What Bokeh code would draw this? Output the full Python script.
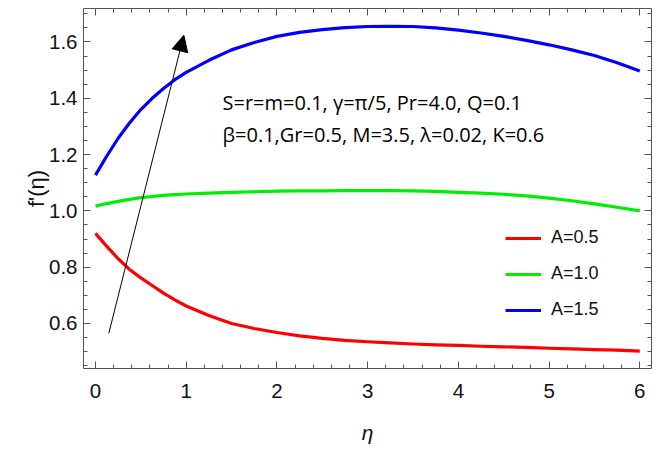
from bokeh.plotting import figure
from bokeh.models import (LinearAxis, SingleIntervalTicker, NumeralTickFormatter,
                          Legend, LegendItem, Arrow, NormalHead, Label, Range1d,
                          CustomJSTickFormatter)
from bokeh.embed import file_html
from bokeh.resources import INLINE

# ---- data ----
eta = [0.0, 0.125, 0.25, 0.375, 0.5, 0.625, 0.75, 0.875, 1.0,
       1.25, 1.5, 1.75, 2.0, 2.25, 2.5, 2.75, 3.0, 3.25, 3.5, 3.75,
       4.0, 4.25, 4.5, 4.75, 5.0, 5.25, 5.5, 5.75, 6.0]
f_A05 = [0.920, 0.874, 0.830, 0.792, 0.762, 0.735, 0.708, 0.684, 0.662,
         0.628, 0.600, 0.582, 0.568, 0.556, 0.547, 0.540, 0.535, 0.531, 0.527, 0.524,
         0.522, 0.519, 0.517, 0.515, 0.512, 0.510, 0.507, 0.505, 0.502]
f_A10 = [1.017, 1.026, 1.034, 1.041, 1.047, 1.051, 1.055, 1.058, 1.060,
         1.063, 1.066, 1.068, 1.070, 1.071, 1.071, 1.072, 1.072, 1.072, 1.071, 1.069,
         1.066, 1.063, 1.059, 1.053, 1.045, 1.036, 1.025, 1.013, 1.000]
f_A15 = [1.127, 1.195, 1.258, 1.312, 1.360, 1.400, 1.435, 1.466, 1.492,
         1.535, 1.572, 1.598, 1.620, 1.634, 1.644, 1.651, 1.655, 1.656, 1.655, 1.650,
         1.642, 1.632, 1.620, 1.606, 1.590, 1.572, 1.552, 1.526, 1.497]
labels = ["A=0.5", "A=1.0", "A=1.5"]
colors = ["#ff0000", "#00ee00", "#0000ff"]
arrow_start = (0.147, 0.565)
arrow_end = (0.974, 1.624)
note1 = "S=r=m=0.1, \u03b3=\u03c0/5, Pr=4.0, Q=0.1"
note2 = "\u03b2=0.1,Gr=0.5, M=3.5, \u03bb=0.02, K=0.6"
note_pos = [(1.40, 1.385), (1.40, 1.272)]

AX = "#555555"
TICKFONT = "Liberation Sans"

p = figure(width=662, height=452, output_backend="svg", toolbar_location=None,
           x_range=Range1d(-0.132, 6.129), y_range=Range1d(0.44, 1.719),
           x_axis_location=None, y_axis_location=None,
           min_border_left=83, min_border_right=11, min_border_top=8, min_border_bottom=84)
p.outline_line_color = None
p.xgrid.visible = False
p.ygrid.visible = False
p.background_fill_color = "white"
p.border_fill_color = "white"


def style(ax, show_labels):
    ax.axis_line_color = AX
    ax.major_tick_line_color = AX
    ax.minor_tick_line_color = AX
    ax.major_tick_in = 7
    ax.major_tick_out = 0
    ax.minor_tick_in = 4
    ax.minor_tick_out = 0
    ax.major_label_text_font = TICKFONT
    ax.major_label_text_color = "#111111"
    ax.major_label_text_font_size = "20.5px"
    if not show_labels:
        ax.formatter = CustomJSTickFormatter(code="return ''")
        ax.major_label_standoff = 0


xt = SingleIntervalTicker(interval=1, num_minor_ticks=5)
yt = SingleIntervalTicker(interval=0.2, num_minor_ticks=4)

xb = LinearAxis(ticker=xt, axis_label="\u03b7")
style(xb, True)
xb.major_label_standoff = 15
xb.axis_label_text_font = TICKFONT
xb.axis_label_text_font_size = "21px"
xb.axis_label_text_font_style = "italic"
xb.axis_label_text_color = "#111111"
xb.axis_label_standoff = 20
p.add_layout(xb, "below")

yl = LinearAxis(ticker=yt, axis_label="f'(\u03b7)", formatter=NumeralTickFormatter(format="0.0"))
style(yl, True)
yl.major_label_standoff = 6
yl.axis_label_text_font = TICKFONT
yl.axis_label_text_font_size = "22px"
yl.axis_label_text_font_style = "normal"
yl.axis_label_text_color = "#111111"
yl.axis_label_standoff = -3
p.add_layout(yl, "left")

xa = LinearAxis(ticker=SingleIntervalTicker(interval=1, num_minor_ticks=5))
style(xa, False)
p.add_layout(xa, "above")
yr = LinearAxis(ticker=SingleIntervalTicker(interval=0.2, num_minor_ticks=4))
style(yr, False)
p.add_layout(yr, "right")

renderers = []
for ys, c in zip([f_A05, f_A10, f_A15], colors):
    r = p.line(eta, ys, line_color=c, line_width=3.2, line_join="round")
    renderers.append(r)

legend = Legend(items=[LegendItem(label=l, renderers=[r]) for l, r in zip(labels, renderers)],
                location=(422, 48), padding=0, margin=0, spacing=15,
                glyph_width=36, glyph_height=20, label_height=20, label_standoff=10,
                label_text_font=TICKFONT, label_text_font_size="18px",
                label_text_color="#111111",
                border_line_color=None, background_fill_alpha=0)
p.add_layout(legend, "center")

p.add_layout(Arrow(x_start=arrow_start[0], y_start=arrow_start[1],
                   x_end=arrow_end[0], y_end=arrow_end[1],
                   line_color="black", line_width=1,
                   end=NormalHead(size=16, fill_color="black", line_color="black", line_width=1)))

for t, (x, y) in zip([note1, note2], note_pos):
    p.add_layout(Label(x=x, y=y, text=t, text_font="Open Sans", text_font_size="20px",
                       text_color="black", text_baseline="alphabetic"))

open("out.html", "w").write(file_html(p, INLINE))
